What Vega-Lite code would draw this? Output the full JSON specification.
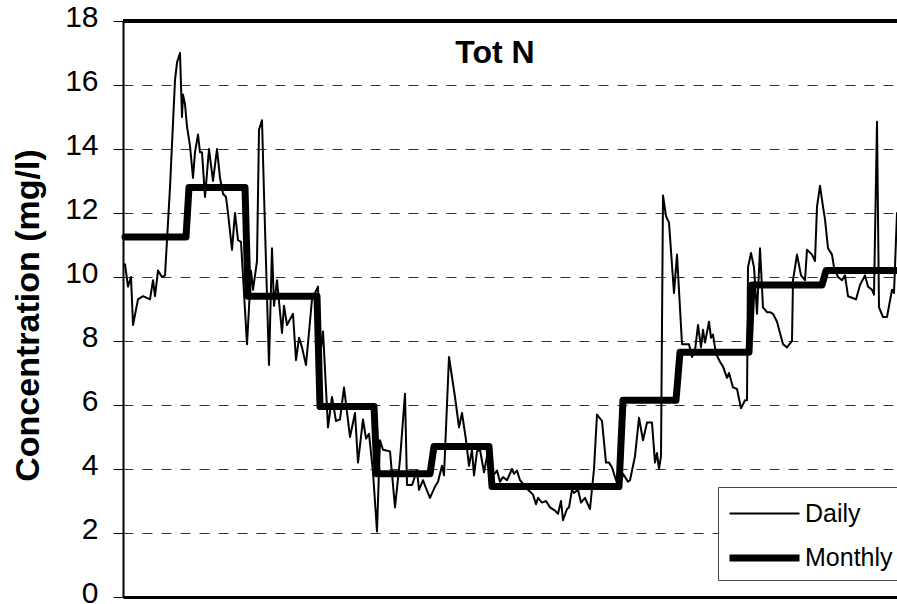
{
"$schema": "https://vega.github.io/schema/vega-lite/v6.json",
"width": 774, "height": 576,
"autosize": {"type": "none"},
"padding": {"left": 123, "top": 21, "right": 0, "bottom": 7},
"background": "white",
"config": {"view": {"stroke": null}, "font": "Liberation Sans"},
"title": {"text": "Tot N", "fontSize": 32, "font": "Liberation Sans", "fontWeight": "bold", "color": "black", "offset": -68, "dx": -15, "anchor": "middle", "frame": "group"},
"data": {"values": [
{"t":2,"v":10.4,"s":"Daily"},{"t":5,"v":9.7,"s":"Daily"},{"t":8,"v":10.0,"s":"Daily"},{"t":10,"v":8.5,"s":"Daily"},{"t":15,"v":9.3,"s":"Daily"},{"t":20,"v":9.4,"s":"Daily"},{"t":27,"v":9.3,"s":"Daily"},{"t":30,"v":9.9,"s":"Daily"},{"t":32,"v":9.4,"s":"Daily"},{"t":35,"v":10.2,"s":"Daily"},{"t":39,"v":10.0,"s":"Daily"},{"t":42,"v":10.05,"s":"Daily"},{"t":47,"v":12.8,"s":"Daily"},{"t":52,"v":16.15,"s":"Daily"},{"t":54,"v":16.7,"s":"Daily"},{"t":57,"v":17.0,"s":"Daily"},{"t":59,"v":15.0,"s":"Daily"},{"t":60,"v":15.7,"s":"Daily"},{"t":62,"v":15.4,"s":"Daily"},{"t":64,"v":14.7,"s":"Daily"},{"t":67,"v":14.1,"s":"Daily"},{"t":70,"v":13.1,"s":"Daily"},{"t":72,"v":13.9,"s":"Daily"},{"t":75,"v":14.45,"s":"Daily"},{"t":77,"v":13.9,"s":"Daily"},{"t":79,"v":13.9,"s":"Daily"},{"t":82,"v":12.5,"s":"Daily"},{"t":86,"v":14.0,"s":"Daily"},{"t":90,"v":13.0,"s":"Daily"},{"t":94,"v":14.0,"s":"Daily"},{"t":97,"v":13.1,"s":"Daily"},{"t":100,"v":12.6,"s":"Daily"},{"t":103,"v":12.5,"s":"Daily"},{"t":105,"v":12.0,"s":"Daily"},{"t":109,"v":10.85,"s":"Daily"},{"t":112,"v":12.0,"s":"Daily"},{"t":115,"v":11.15,"s":"Daily"},{"t":118,"v":11.1,"s":"Daily"},{"t":124,"v":7.9,"s":"Daily"},{"t":128,"v":10.2,"s":"Daily"},{"t":130,"v":9.6,"s":"Daily"},{"t":134,"v":10.5,"s":"Daily"},{"t":136,"v":14.6,"s":"Daily"},{"t":139,"v":14.9,"s":"Daily"},{"t":141,"v":12.6,"s":"Daily"},{"t":146,"v":7.25,"s":"Daily"},{"t":149,"v":10.9,"s":"Daily"},{"t":151,"v":9.1,"s":"Daily"},{"t":154,"v":9.9,"s":"Daily"},{"t":159,"v":8.25,"s":"Daily"},{"t":161,"v":9.1,"s":"Daily"},{"t":164,"v":8.5,"s":"Daily"},{"t":170,"v":8.85,"s":"Daily"},{"t":173,"v":7.4,"s":"Daily"},{"t":176,"v":8.1,"s":"Daily"},{"t":179,"v":7.8,"s":"Daily"},{"t":183,"v":7.25,"s":"Daily"},{"t":189,"v":9.3,"s":"Daily"},{"t":195,"v":9.7,"s":"Daily"},{"t":197,"v":7.5,"s":"Daily"},{"t":200,"v":8.3,"s":"Daily"},{"t":205,"v":5.3,"s":"Daily"},{"t":209,"v":6.25,"s":"Daily"},{"t":213,"v":5.5,"s":"Daily"},{"t":217,"v":5.55,"s":"Daily"},{"t":221,"v":6.55,"s":"Daily"},{"t":227,"v":5.0,"s":"Daily"},{"t":232,"v":5.75,"s":"Daily"},{"t":235,"v":4.2,"s":"Daily"},{"t":240,"v":5.55,"s":"Daily"},{"t":243,"v":4.95,"s":"Daily"},{"t":246,"v":5.1,"s":"Daily"},{"t":250,"v":3.9,"s":"Daily"},{"t":254,"v":2.05,"s":"Daily"},{"t":257,"v":4.9,"s":"Daily"},{"t":260,"v":4.6,"s":"Daily"},{"t":267,"v":4.55,"s":"Daily"},{"t":272,"v":2.8,"s":"Daily"},{"t":277,"v":4.3,"s":"Daily"},{"t":282,"v":6.35,"s":"Daily"},{"t":284,"v":3.5,"s":"Daily"},{"t":289,"v":3.5,"s":"Daily"},{"t":294,"v":3.95,"s":"Daily"},{"t":296,"v":3.35,"s":"Daily"},{"t":300,"v":3.65,"s":"Daily"},{"t":303,"v":3.4,"s":"Daily"},{"t":307,"v":3.1,"s":"Daily"},{"t":312,"v":3.45,"s":"Daily"},{"t":315,"v":3.6,"s":"Daily"},{"t":319,"v":4.1,"s":"Daily"},{"t":321,"v":3.8,"s":"Daily"},{"t":326,"v":7.5,"s":"Daily"},{"t":332,"v":6.25,"s":"Daily"},{"t":336,"v":5.3,"s":"Daily"},{"t":339,"v":5.75,"s":"Daily"},{"t":343,"v":4.9,"s":"Daily"},{"t":346,"v":4.1,"s":"Daily"},{"t":349,"v":4.6,"s":"Daily"},{"t":351,"v":3.8,"s":"Daily"},{"t":354,"v":4.55,"s":"Daily"},{"t":357,"v":4.6,"s":"Daily"},{"t":361,"v":3.9,"s":"Daily"},{"t":364,"v":4.4,"s":"Daily"},{"t":369,"v":3.75,"s":"Daily"},{"t":374,"v":3.95,"s":"Daily"},{"t":377,"v":3.6,"s":"Daily"},{"t":380,"v":3.75,"s":"Daily"},{"t":384,"v":3.65,"s":"Daily"},{"t":389,"v":4.0,"s":"Daily"},{"t":391,"v":3.85,"s":"Daily"},{"t":394,"v":3.95,"s":"Daily"},{"t":397,"v":3.65,"s":"Daily"},{"t":405,"v":3.35,"s":"Daily"},{"t":410,"v":3.2,"s":"Daily"},{"t":413,"v":2.9,"s":"Daily"},{"t":415,"v":3.1,"s":"Daily"},{"t":419,"v":2.95,"s":"Daily"},{"t":423,"v":3.0,"s":"Daily"},{"t":427,"v":2.8,"s":"Daily"},{"t":432,"v":2.7,"s":"Daily"},{"t":435,"v":2.6,"s":"Daily"},{"t":438,"v":3.0,"s":"Daily"},{"t":440,"v":2.4,"s":"Daily"},{"t":444,"v":2.75,"s":"Daily"},{"t":446,"v":2.8,"s":"Daily"},{"t":449,"v":3.35,"s":"Daily"},{"t":451,"v":3.25,"s":"Daily"},{"t":455,"v":3.35,"s":"Daily"},{"t":458,"v":2.95,"s":"Daily"},{"t":462,"v":3.1,"s":"Daily"},{"t":467,"v":2.75,"s":"Daily"},{"t":471,"v":4.0,"s":"Daily"},{"t":474,"v":5.7,"s":"Daily"},{"t":479,"v":5.5,"s":"Daily"},{"t":483,"v":4.2,"s":"Daily"},{"t":486,"v":4.2,"s":"Daily"},{"t":489,"v":4.05,"s":"Daily"},{"t":493,"v":3.65,"s":"Daily"},{"t":497,"v":3.5,"s":"Daily"},{"t":500,"v":3.85,"s":"Daily"},{"t":505,"v":3.6,"s":"Daily"},{"t":507,"v":3.65,"s":"Daily"},{"t":512,"v":4.4,"s":"Daily"},{"t":516,"v":5.6,"s":"Daily"},{"t":520,"v":4.9,"s":"Daily"},{"t":524,"v":5.45,"s":"Daily"},{"t":529,"v":5.45,"s":"Daily"},{"t":532,"v":4.2,"s":"Daily"},{"t":534,"v":4.5,"s":"Daily"},{"t":536,"v":4.0,"s":"Daily"},{"t":538,"v":4.4,"s":"Daily"},{"t":540,"v":12.55,"s":"Daily"},{"t":543,"v":11.9,"s":"Daily"},{"t":546,"v":11.7,"s":"Daily"},{"t":551,"v":9.5,"s":"Daily"},{"t":554,"v":10.7,"s":"Daily"},{"t":559,"v":7.9,"s":"Daily"},{"t":562,"v":7.9,"s":"Daily"},{"t":566,"v":7.9,"s":"Daily"},{"t":569,"v":7.5,"s":"Daily"},{"t":572,"v":7.7,"s":"Daily"},{"t":575,"v":8.5,"s":"Daily"},{"t":578,"v":7.8,"s":"Daily"},{"t":580,"v":8.35,"s":"Daily"},{"t":582,"v":7.95,"s":"Daily"},{"t":586,"v":8.6,"s":"Daily"},{"t":588,"v":8.1,"s":"Daily"},{"t":590,"v":8.2,"s":"Daily"},{"t":593,"v":7.6,"s":"Daily"},{"t":597,"v":7.35,"s":"Daily"},{"t":600,"v":7.2,"s":"Daily"},{"t":604,"v":6.85,"s":"Daily"},{"t":606,"v":7.0,"s":"Daily"},{"t":610,"v":6.55,"s":"Daily"},{"t":614,"v":6.5,"s":"Daily"},{"t":618,"v":5.9,"s":"Daily"},{"t":622,"v":6.15,"s":"Daily"},{"t":624,"v":6.15,"s":"Daily"},{"t":625,"v":10.3,"s":"Daily"},{"t":628,"v":10.75,"s":"Daily"},{"t":631,"v":10.3,"s":"Daily"},{"t":634,"v":8.85,"s":"Daily"},{"t":637,"v":10.9,"s":"Daily"},{"t":640,"v":9.05,"s":"Daily"},{"t":644,"v":8.9,"s":"Daily"},{"t":647,"v":8.9,"s":"Daily"},{"t":650,"v":8.85,"s":"Daily"},{"t":654,"v":8.6,"s":"Daily"},{"t":657,"v":8.25,"s":"Daily"},{"t":660,"v":7.9,"s":"Daily"},{"t":664,"v":7.8,"s":"Daily"},{"t":669,"v":8.0,"s":"Daily"},{"t":670,"v":9.9,"s":"Daily"},{"t":674,"v":10.7,"s":"Daily"},{"t":678,"v":10.05,"s":"Daily"},{"t":682,"v":9.9,"s":"Daily"},{"t":684,"v":10.85,"s":"Daily"},{"t":689,"v":10.7,"s":"Daily"},{"t":692,"v":10.5,"s":"Daily"},{"t":694,"v":12.2,"s":"Daily"},{"t":697,"v":12.85,"s":"Daily"},{"t":700,"v":12.2,"s":"Daily"},{"t":702,"v":11.8,"s":"Daily"},{"t":705,"v":10.9,"s":"Daily"},{"t":709,"v":10.7,"s":"Daily"},{"t":711,"v":10.3,"s":"Daily"},{"t":715,"v":10.0,"s":"Daily"},{"t":719,"v":9.9,"s":"Daily"},{"t":722,"v":10.05,"s":"Daily"},{"t":725,"v":9.4,"s":"Daily"},{"t":729,"v":9.35,"s":"Daily"},{"t":733,"v":9.3,"s":"Daily"},{"t":737,"v":9.75,"s":"Daily"},{"t":742,"v":10.05,"s":"Daily"},{"t":745,"v":9.7,"s":"Daily"},{"t":749,"v":9.6,"s":"Daily"},{"t":751,"v":9.45,"s":"Daily"},{"t":754,"v":14.85,"s":"Daily"},{"t":756,"v":9.05,"s":"Daily"},{"t":760,"v":8.75,"s":"Daily"},{"t":764,"v":8.75,"s":"Daily"},{"t":769,"v":9.6,"s":"Daily"},{"t":771,"v":9.5,"s":"Daily"},{"t":774,"v":12.0,"s":"Daily"},
{"t":2,"v":11.25,"s":"Monthly"},{"t":63,"v":11.25,"s":"Monthly"},
{"t":66,"v":12.8,"s":"Monthly"},{"t":122,"v":12.8,"s":"Monthly"},
{"t":125,"v":9.4,"s":"Monthly"},{"t":194,"v":9.4,"s":"Monthly"},
{"t":197,"v":5.95,"s":"Monthly"},{"t":251,"v":5.95,"s":"Monthly"},
{"t":254,"v":3.85,"s":"Monthly"},{"t":307,"v":3.85,"s":"Monthly"},
{"t":311,"v":4.7,"s":"Monthly"},{"t":366,"v":4.7,"s":"Monthly"},
{"t":369,"v":3.45,"s":"Monthly"},{"t":496,"v":3.45,"s":"Monthly"},
{"t":500,"v":6.15,"s":"Monthly"},{"t":553,"v":6.15,"s":"Monthly"},
{"t":557,"v":7.65,"s":"Monthly"},{"t":626,"v":7.65,"s":"Monthly"},
{"t":629,"v":9.75,"s":"Monthly"},{"t":699,"v":9.75,"s":"Monthly"},
{"t":703,"v":10.2,"s":"Monthly"},{"t":774,"v":10.2,"s":"Monthly"}
]},
"layer": [
{"mark": {"type": "line", "color": "black", "strokeJoin": "round", "strokeCap": "round"},
 "encoding": {
  "x": {"field": "t", "type": "quantitative", "scale": {"domain": [0, 774], "nice": false, "zero": false},
        "axis": {"title": null, "labels": false, "ticks": false, "grid": false, "domainColor": "black", "domainWidth": 3}},
  "y": {"field": "v", "type": "quantitative", "scale": {"domain": [0, 18], "nice": false},
        "axis": {"title": "Concentration (mg/l)", "titleFontSize": 34, "titleFontWeight": "bold", "titleColor": "black", "titleFont": "Liberation Sans",
                 "titleX": -78, "titleY": 294, "titleAngle": -90, "titleBaseline": "bottom", "titleAnchor": "middle",
                 "values": [0,2,4,6,8,10,12,14,16,18], "labelFontSize": 30, "labelColor": "black", "labelFont": "Liberation Sans", "labelPadding": 15, "labelOffset": -4,
                 "tickSize": 10, "tickColor": "black", "tickWidth": 1, "domainColor": "black", "domainWidth": 2,
                 "grid": true, "gridDash": [10, 9], "gridColor": "#333", "gridWidth": 1}},
  "strokeWidth": {"field": "s", "type": "ordinal", "scale": {"domain": ["Daily", "Monthly"], "range": [2, 7]},
        "legend": {"orient": "none", "legendX": 595, "legendY": 466, "title": null, "symbolType": "M-1,0H3", "symbolSize": 1225,
                   "symbolStrokeColor": "black", "labelFontSize": 25, "labelColor": "black", "labelFont": "Liberation Sans",
                   "strokeColor": "#444", "fillColor": "white", "padding": 8, "rowPadding": 10, "labelOffset": 37}}
 }},
{"mark": {"type": "rule", "color": "black", "strokeWidth": 2.5}, "encoding": {"y": {"datum": 18}}}
]
}
